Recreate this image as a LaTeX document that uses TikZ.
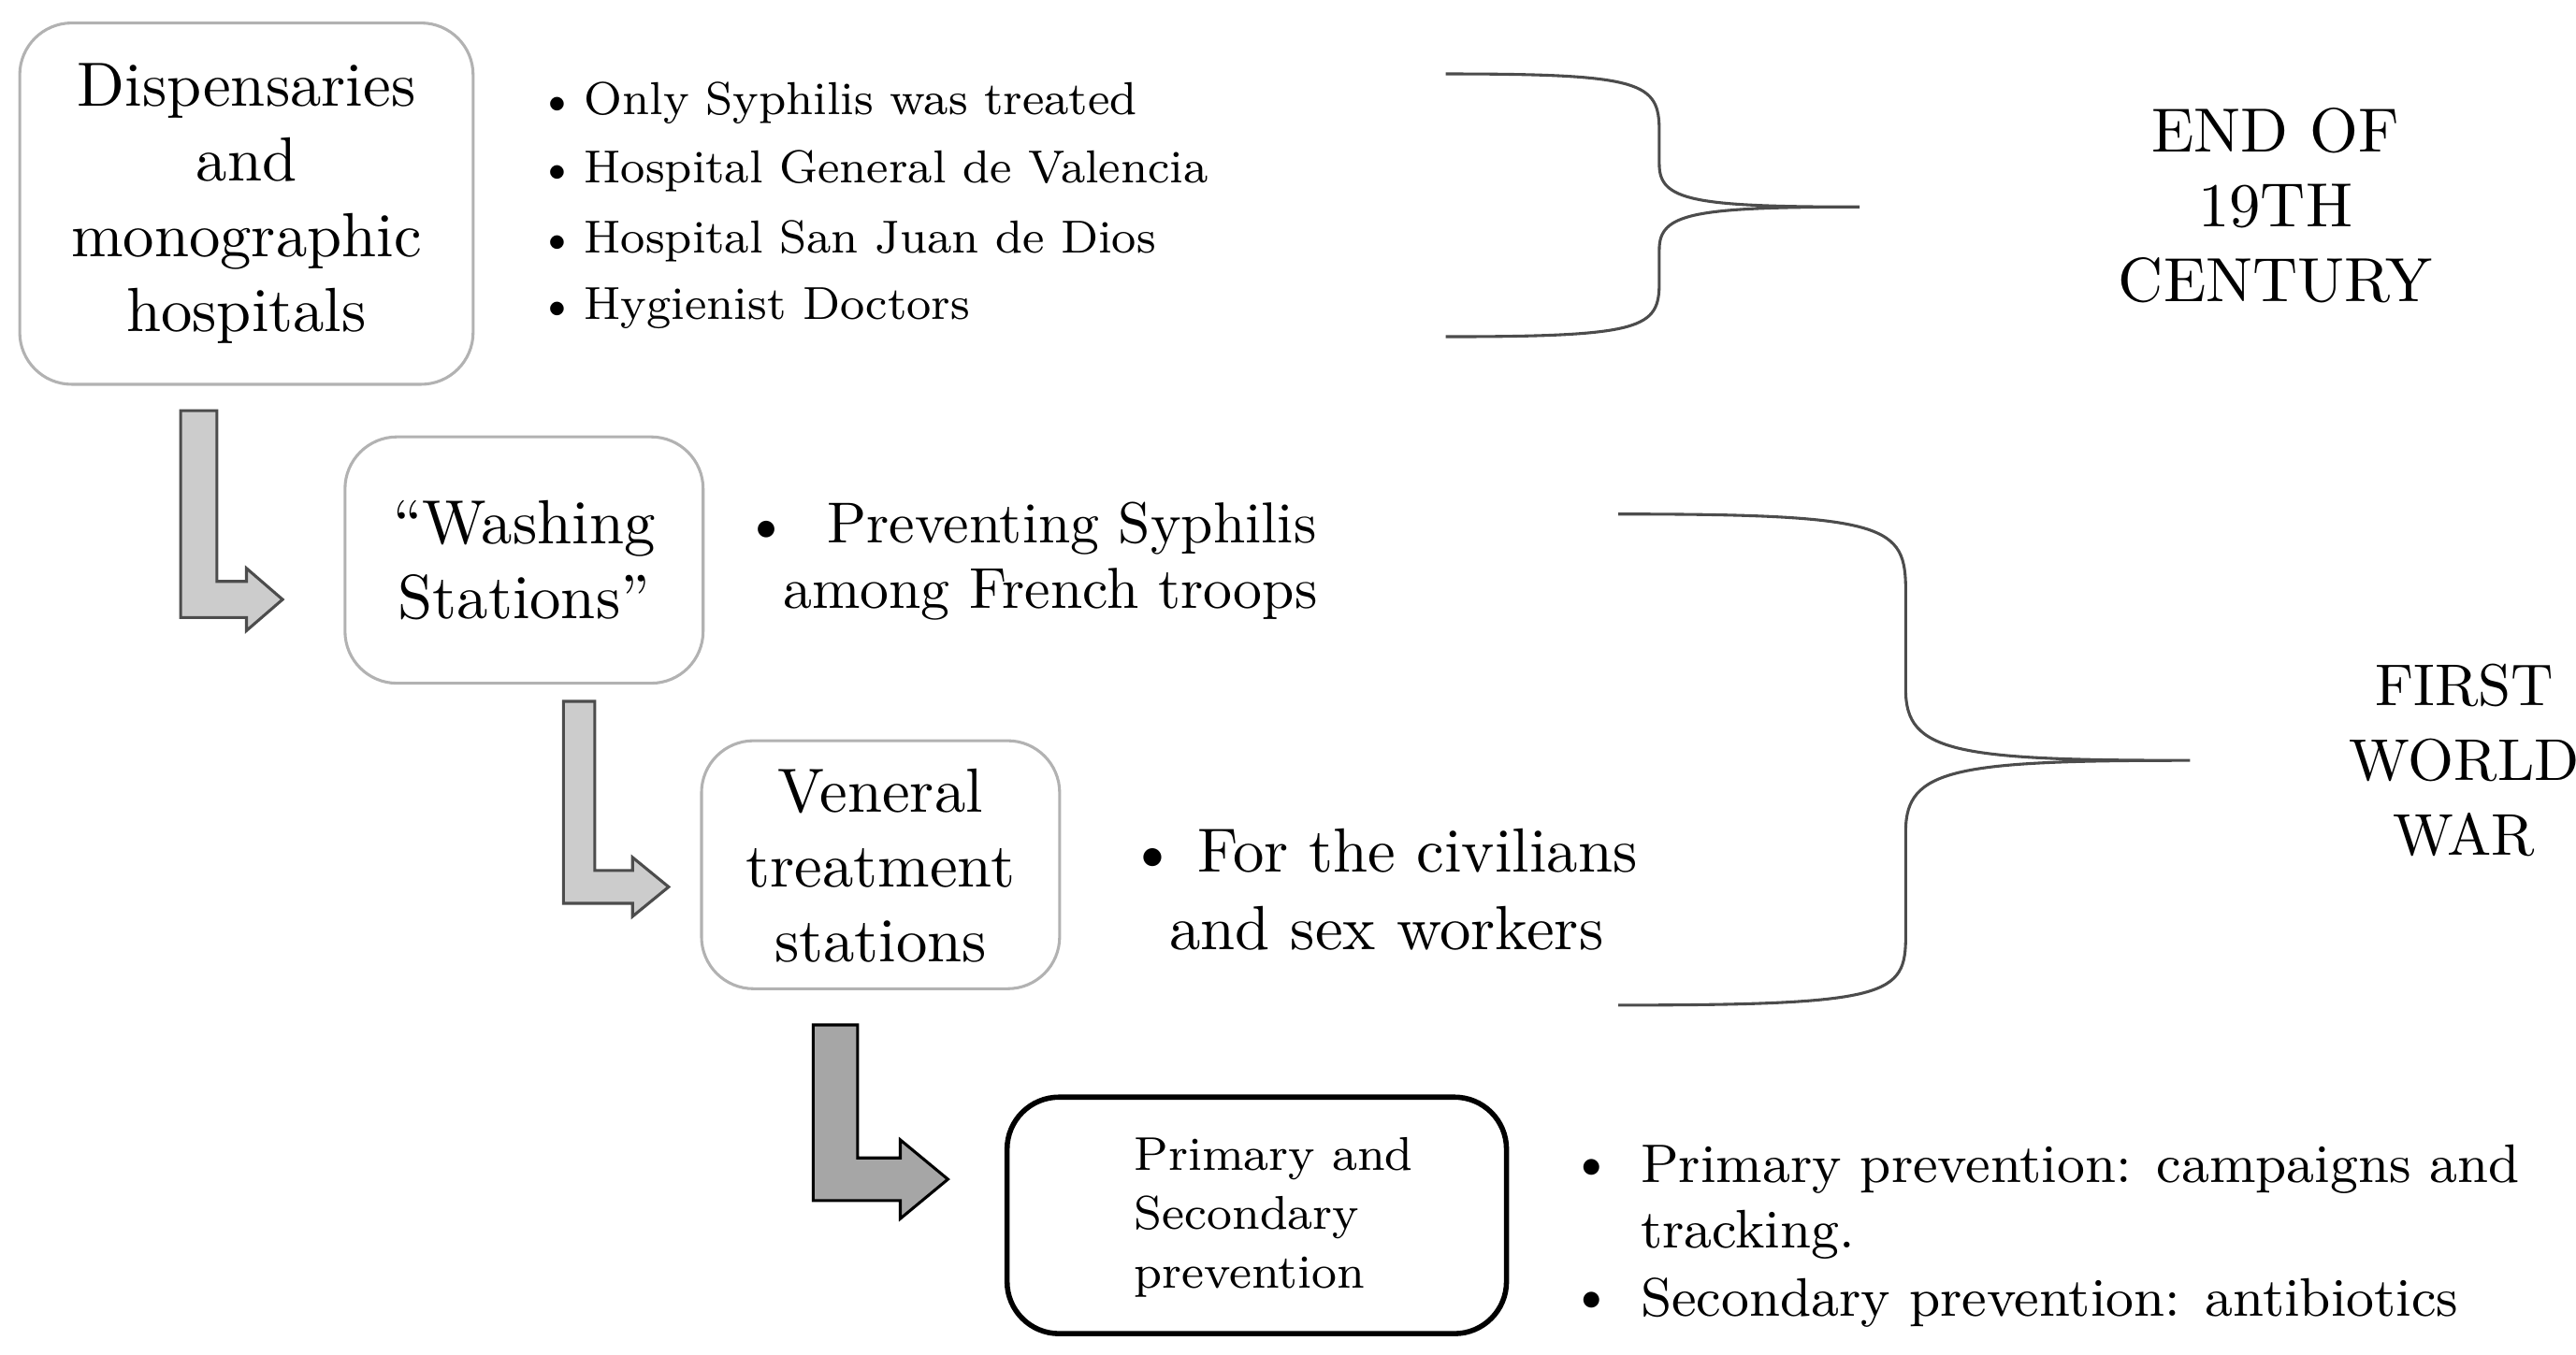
\documentclass[tikz,border=0pt]{standalone}
\usepackage{fontspec}
\begin{document}
\begin{tikzpicture}[x=0.01cm,y=-0.01cm,
 box/.style={draw=black!30,line width=0.5pt,rounded corners=9pt,fill=white},
 big/.style={font=\fontsize{10.8}{13}\selectfont,align=center},
 arr/.style={draw=black!70,fill=black!20,line width=0.5pt},
 brace/.style={draw=black!70,line width=0.5pt},
 txt/.style={anchor=west,inner sep=0}]
\useasboundingbox (0,0) rectangle (1568,825);
% boxes
\draw[box] (12,14) rectangle (288,234);
\node[big] (b1) at (150,124) {Dispensaries\\and\\monographic\\hospitals};
\draw[box] (210,266) rectangle (428,416);
\node[big] (b2) at (319,341) {``Washing\\Stations''};
\draw[box] (427,451) rectangle (645,602);
\node[big] (b3) at (536,527) {Veneral\\treatment\\stations};
\draw[box,draw=black,line width=0.9pt] (613,668) rectangle (917,812);
\node[align=left,anchor=west,font=\fontsize{8.2}{10.2}\selectfont] (b4) at (678,741) {Primary and\\Secondary\\prevention};
% bullets 1
\foreach \y/\t in {63/Only Syphilis was treated,104/Hospital General de Valencia,147/Hospital San Juan de Dios,188/Hygienist Doctors}
 \node[txt,font=\fontsize{8}{10}\selectfont] at (327,\y) {\textbullet\,\t};
\node[txt,font=\fontsize{10}{12}\selectfont] (t2) at (452,322) {\textbullet\ \ Preventing Syphilis};
\node[txt,font=\fontsize{10}{12}\selectfont] at (476,362) {among French troops};
\node[txt,font=\fontsize{10.8}{13}\selectfont] (t3) at (686,518) {\textbullet\ For the civilians};
\node[txt,font=\fontsize{10.8}{13}\selectfont] at (711,565) {and sex workers};
\foreach \y/\t/\b in {712/Primary prevention: campaigns and/1,752/tracking./0,793/Secondary prevention: antibiotics/1}{
 \node[txt,font=\fontsize{9.4}{12}\selectfont] at (998,\y) {\t};
 \ifnum\b=1 \node[txt,font=\fontsize{9.4}{12}\selectfont] at (955,\y) {\textbullet};\fi}
% era labels
\node[big] (e1) at (1385,125) {END OF\\19TH\\CENTURY};
\node[big,font=\fontsize{10.2}{13}\selectfont] (e2) at (1500,463) {FIRST\\WORLD\\WAR};
% braces
\draw[brace] (880,45) .. controls (1000,45) and (1010,50) .. (1010,80) -- (1010,100) .. controls (1010,122) and (1030,126) .. (1132,126)
 .. controls (1030,126) and (1010,130) .. (1010,152) -- (1010,172) .. controls (1010,200) and (1000,205) .. (880,205);
\draw[brace] (985,313) .. controls (1150,313) and (1160,320) .. (1160,360) -- (1160,420) .. controls (1160,458) and (1190,463) .. (1333,463)
 .. controls (1190,463) and (1160,468) .. (1160,506) -- (1160,570) .. controls (1160,606) and (1150,612) .. (985,612);
% arrows
\draw[arr] (110,250) -- (132,250) -- (132,354) -- (150,354) -- (150,346) -- (172,365) -- (150,384) -- (150,376) -- (110,376) -- cycle;
\draw[arr] (343,427) -- (362,427) -- (362,530) -- (385,530) -- (385,522) -- (407,540) -- (385,558) -- (385,550) -- (343,550) -- cycle;
\draw[arr,fill=black!35,draw=black] (495,624) -- (522,624) -- (522,705) -- (548,705) -- (548,694) -- (577,718) -- (548,742) -- (548,731) -- (495,731) -- cycle;
\end{tikzpicture}
\end{document}
